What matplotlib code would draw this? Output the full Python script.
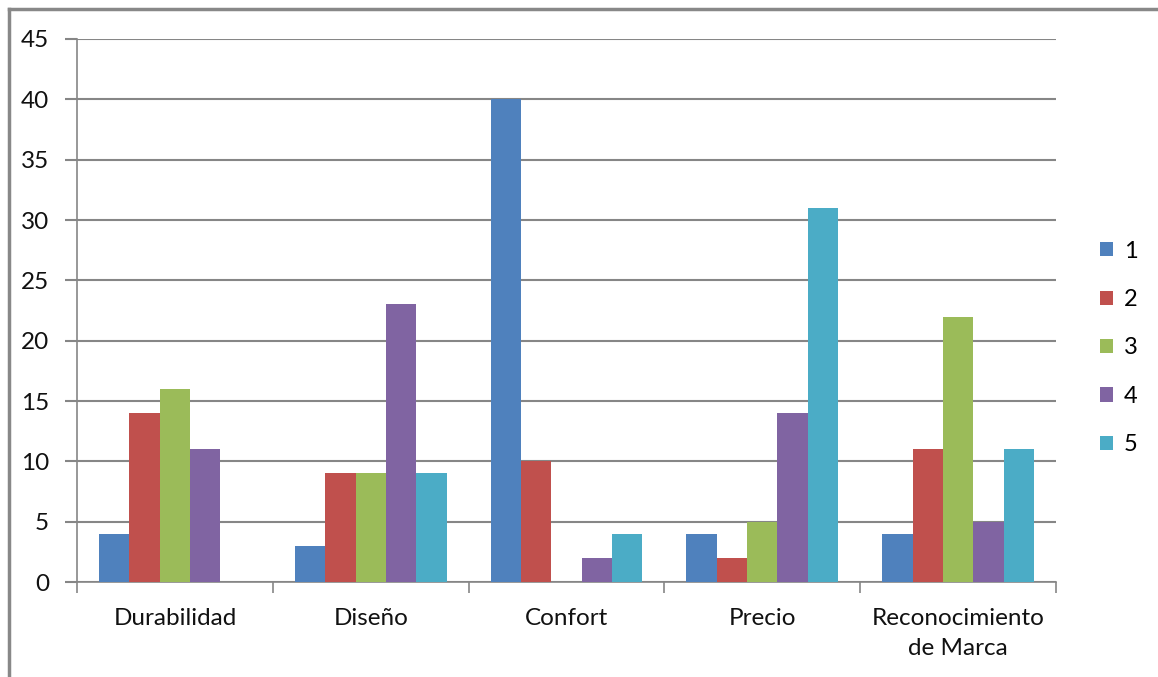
import matplotlib
matplotlib.use("Agg")
import matplotlib.pyplot as plt
import numpy as np

categories = ["Durabilidad", "Diseño", "Confort", "Precio", "Reconocimiento\nde Marca"]
series_names = ["1", "2", "3", "4", "5"]
values_1 = [4, 3, 40, 4, 4]
values_2 = [14, 9, 10, 2, 11]
values_3 = [16, 9, 0, 5, 22]
values_4 = [11, 23, 2, 14, 5]
values_5 = [0, 9, 4, 31, 11]
series_values = [values_1, values_2, values_3, values_4, values_5]
colors = ["#4F81BD", "#C0504D", "#9BBB59", "#8064A2", "#4BACC6"]
y_ticks = list(range(0, 50, 5))

plt.rcParams["font.family"] = ["Lato", "DejaVu Sans"]
grid_gray = "#868686"
text_color = "#111111"

fig = plt.figure(figsize=(11.58, 6.77), dpi=100)
ax = fig.add_axes([0.0665, 0.1403, 0.8454, 0.8021])

n = len(series_values)
bar_w = 0.155
centers = np.arange(len(categories)) + 0.5
for i, (vals, col, name) in enumerate(zip(series_values, colors, series_names)):
    offs = (i - (n - 1) / 2) * bar_w
    ax.bar(centers + offs, vals, width=bar_w, color=col, label=name, zorder=3, linewidth=0)

ax.set_xlim(0, len(categories))
ax.set_ylim(0, 45)
ax.set_yticks(y_ticks)
ax.yaxis.grid(True, color=grid_gray, linewidth=1.5, zorder=0)
ax.set_axisbelow(True)

ax.set_xticks(np.arange(len(categories) + 1))
ax.set_xticklabels([])
ax.set_xticks(centers, minor=True)
ax.set_xticklabels(categories, minor=True, fontsize=17.5, color=text_color, linespacing=1.5)
ax.tick_params(axis="x", which="major", length=8, color=grid_gray, width=1.2)
ax.tick_params(axis="x", which="minor", length=0, pad=19)
ax.tick_params(axis="y", length=9, color=grid_gray, width=1.5, labelsize=17.5,
               labelcolor=text_color, pad=11)

for side in ["top", "right"]:
    ax.spines[side].set_visible(False)
for side in ["left", "bottom"]:
    ax.spines[side].set_color(grid_gray)
    ax.spines[side].set_linewidth(1.2)

fig.legend(loc="center left", bbox_to_anchor=(0.9316, 0.486), frameon=False,
           fontsize=17, handlelength=0.55, handleheight=0.55, handletextpad=0.45,
           labelspacing=1.16)

# outer frame: top and left edges
fig.add_artist(plt.Line2D([0.0075, 1.0], [0.9865, 0.9865], transform=fig.transFigure,
                          color="#888888", linewidth=2.5))
fig.add_artist(plt.Line2D([0.0078, 0.0078], [0.0, 0.9865], transform=fig.transFigure,
                          color="#888888", linewidth=2.5))

fig.savefig("out.png", dpi=100)
